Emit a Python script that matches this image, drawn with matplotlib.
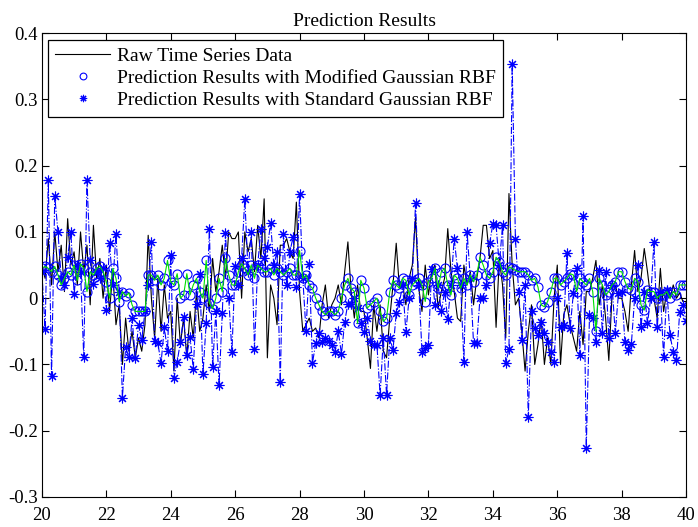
import numpy as np
import matplotlib.pyplot as plt

plt.rcParams['font.family'] = ['Liberation Serif', 'DejaVu Serif']

# time axis, 0.1 step from 20 to 40
t = np.round(np.arange(20, 40.001, 0.1), 1)

raw = [
    0.05, 0.03, 0.09, 0.02, 0.10, 0.04, 0.08, 0.01, 0.12, 0.05,
    0.07, 0.02, 0.10, 0.04, 0.08, -0.01, 0.11, 0.03, 0.06, 0.00,
    0.05, -0.02, 0.04, -0.04, -0.01, -0.10, -0.03, -0.08, -0.05, -0.09,
    -0.06, -0.08, -0.04, 0.095, 0.00, -0.06, 0.03, -0.05, 0.02, -0.03,
    -0.02, -0.11, 0.00, -0.07, -0.03, -0.09, -0.02, -0.06, 0.01, -0.05,
    -0.03, 0.02, -0.02, 0.06, 0.01, 0.04, 0.08, 0.03, 0.10, 0.09,
    0.09, 0.10, 0.00, 0.10, 0.07, 0.09, 0.04, 0.11, 0.06, 0.15,
    -0.09, 0.02, 0.00, -0.04, 0.08, 0.08, 0.09, 0.07, 0.06, 0.145,
    0.01, -0.05, -0.04, -0.03, -0.05, -0.045, -0.06, -0.01, 0.02, -0.03,
    -0.01, 0.00, 0.02, -0.01, 0.04, 0.085, 0.01, -0.03, 0.02, -0.02,
    -0.02, -0.06, -0.106, -0.01, -0.05, -0.01, -0.08, -0.09, -0.03, 0.02,
    0.083, 0.015, 0.02, -0.01, 0.03, 0.05, 0.122, 0.015, -0.02, 0.05,
    0.005, 0.04, 0.05, -0.015, 0.01, 0.03, 0.105, 0.04, 0.01, -0.03,
    -0.035, 0.05, 0.02, 0.04, -0.01, 0.03, 0.06, 0.11, 0.11, 0.06,
    0.072, -0.044, 0.06, 0.02, -0.06, 0.158, 0.05, -0.01, 0.00, -0.05,
    -0.11, -0.05, -0.01, -0.10, -0.07, -0.03, -0.10, -0.06, -0.10, 0.00,
    0.05, -0.10, -0.025, -0.01, -0.04, -0.06, -0.08, -0.02, -0.07, 0.01,
    0.01, 0.03, 0.057, -0.01, 0.02, -0.03, -0.094, 0.005, 0.02, 0.00,
    0.00, -0.02, -0.05, 0.02, 0.072, 0.01, 0.03, 0.075, 0.04, 0.00,
    0.00, -0.03, 0.045, -0.02, 0.01, 0.00, 0.02, 0.00, 0.008, -0.005,
    -0.005,
]

modified = [
    0.045, 0.048, 0.045, 0.040, 0.048, 0.035, 0.020, 0.030, 0.040, 0.035,
    0.050, 0.027, 0.052, 0.045, 0.010, 0.040, 0.035, 0.045, 0.048, 0.040,
    0.025, 0.000, 0.045, 0.030, -0.005, 0.010, 0.003, 0.008, -0.010, -0.020,
    -0.020, -0.020, -0.020, 0.035, 0.035, 0.027, 0.035, 0.020, 0.030, 0.057,
    0.025, 0.020, 0.037, 0.000, 0.005, 0.037, 0.005, 0.020, 0.030, 0.010,
    0.000, 0.057, -0.007, -0.016, 0.000, 0.030, 0.010, 0.060, 0.035, 0.020,
    0.020, 0.040, 0.052, 0.045, 0.035, 0.050, 0.030, 0.050, 0.045, 0.040,
    0.040, 0.045, 0.035, 0.045, 0.040, 0.035, 0.040, 0.045, 0.035, 0.035,
    0.072, 0.030, 0.035, 0.020, 0.015, 0.000, -0.010, -0.020, -0.025, -0.020,
    -0.020, -0.025, -0.020, 0.000, 0.020, 0.030, 0.015, 0.010, -0.038, 0.027,
    0.015, -0.015, -0.010, -0.005, 0.000, -0.020, -0.035, -0.030, 0.010, 0.027,
    0.020, 0.015, 0.030, 0.027, 0.005, 0.020, 0.025, 0.030, 0.020, -0.005,
    0.025, 0.030, 0.045, 0.015, 0.040, 0.045, 0.020, 0.005, 0.035, 0.030,
    0.015, 0.030, 0.020, 0.035, 0.025, 0.035, 0.062, 0.050, 0.035, 0.030,
    0.040, 0.062, 0.055, 0.040, 0.035, 0.047, 0.045, 0.042, 0.040, 0.040,
    0.040, 0.035, 0.027, 0.030, 0.017, -0.010, -0.013, -0.005, 0.010, 0.030,
    0.030, 0.020, 0.025, 0.030, 0.037, 0.035, 0.010, 0.030, 0.025, 0.020,
    0.030, 0.010, -0.050, 0.030, 0.020, 0.005, 0.010, 0.020, 0.025, 0.040,
    0.040, 0.025, 0.015, 0.013, 0.030, 0.025, -0.010, -0.018, 0.013, 0.010,
    0.010, 0.000, 0.005, 0.005, 0.010, 0.000, 0.010, 0.005, 0.020, 0.020,
    0.020,
]

standard = [
    0.040, -0.047, 0.178, -0.118, 0.154, 0.100, 0.030, 0.020, 0.062, 0.100,
    0.007, 0.050, 0.040, -0.089, 0.178, 0.057, 0.022, 0.040, 0.030, 0.045,
    -0.018, 0.083, 0.020, 0.097, 0.010, -0.150, -0.074, -0.089, -0.030, -0.090,
    -0.040, -0.063, -0.020, 0.020, 0.085, -0.065, -0.068, -0.098, -0.044, -0.080,
    0.065, -0.120, -0.096, -0.066, -0.028, -0.086, -0.059, -0.107, -0.008, 0.036,
    -0.115, -0.038, 0.104, -0.104, -0.020, -0.131, -0.023, 0.098, 0.000, -0.081,
    0.048, 0.020, 0.060, 0.150, 0.040, 0.100, -0.077, 0.050, 0.104, 0.060,
    0.077, 0.113, 0.050, 0.070, -0.127, 0.097, 0.020, 0.070, 0.093, 0.017,
    0.157, 0.030, -0.050, 0.051, -0.098, -0.068, -0.053, -0.066, -0.060, -0.065,
    -0.070, -0.081, -0.050, -0.084, -0.036, -0.008, -0.008, 0.000, -0.015, -0.038,
    -0.051, -0.030, -0.065, -0.070, -0.070, -0.146, -0.060, -0.146, -0.060, -0.078,
    -0.023, -0.006, 0.020, -0.051, 0.000, 0.030, 0.143, 0.020, -0.081, -0.075,
    -0.070, 0.044, -0.010, 0.020, -0.020, 0.010, -0.032, 0.020, 0.090, 0.045,
    0.020, -0.096, 0.100, 0.030, -0.068, -0.068, 0.000, 0.000, 0.020, 0.083,
    0.112, 0.110, 0.050, 0.110, -0.098, -0.077, 0.354, 0.090, 0.010, -0.063,
    0.020, -0.180, -0.020, -0.045, -0.056, -0.036, -0.053, -0.066, -0.081, -0.096,
    0.000, -0.044, -0.041, 0.068, -0.045, 0.008, 0.045, -0.086, 0.124, -0.226,
    -0.026, -0.030, -0.066, 0.042, -0.053, 0.040, -0.060, 0.020, -0.053, 0.008,
    0.010, -0.066, -0.078, -0.069, 0.000, 0.050, -0.044, 0.010, -0.038, 0.000,
    0.085, -0.044, 0.010, -0.088, 0.012, -0.056, -0.081, -0.094, -0.021, -0.010,
    -0.035,
]

fig = plt.figure(figsize=(6.98, 5.27), dpi=100)
ax = fig.add_axes([0.060, 0.057, 0.923, 0.880])

# asterisk marker like the MATLAB '*'
star = (8, 2, 0)

h_raw, = ax.plot(t, raw, color='k', lw=0.8)
h_mod, = ax.plot(t, modified, 'o', color='b', mfc='none', ms=6.5, mew=0.8)
h_std, = ax.plot(t, standard, marker=star, ls='none', color='b', ms=7, mew=0.8)
ax.plot(t, standard, '-.', color='b', lw=0.8)
ax.plot(t, modified, '-', color='#00e000', lw=0.8)

ax.set_xlim(20, 40)
ax.set_ylim(-0.3, 0.4)
ax.set_xticks(np.arange(20, 41, 2))
ax.set_yticks(np.round(np.arange(-0.3, 0.41, 0.1), 1))
ax.set_yticklabels(['-0.3', '-0.2', '-0.1', '0', '0.1', '0.2', '0.3', '0.4'])
ax.tick_params(direction='in', top=True, right=True, length=5, width=0.8,
               labelsize=13.5)
ax.tick_params(axis='x', pad=7)
ax.tick_params(axis='y', pad=3)
for s in ax.spines.values():
    s.set_linewidth(0.8)
ax.set_title('Prediction Results', fontsize=14, pad=5)

leg = ax.legend([h_raw, h_mod, h_std],
                ['Raw Time Series Data',
                 'Prediction Results with Modified Gaussian RBF',
                 'Prediction Results with Standard Gaussian RBF'],
                loc='upper left', bbox_to_anchor=(0.006, 0.99), fontsize=14,
                fancybox=False, edgecolor='k', framealpha=1, markerscale=0.75,
                handlelength=2.8, borderpad=0.4, labelspacing=0.22,
                handletextpad=0.35, borderaxespad=0.1)
leg.get_frame().set_linewidth(0.9)

fig.savefig('out.png', dpi=100)
